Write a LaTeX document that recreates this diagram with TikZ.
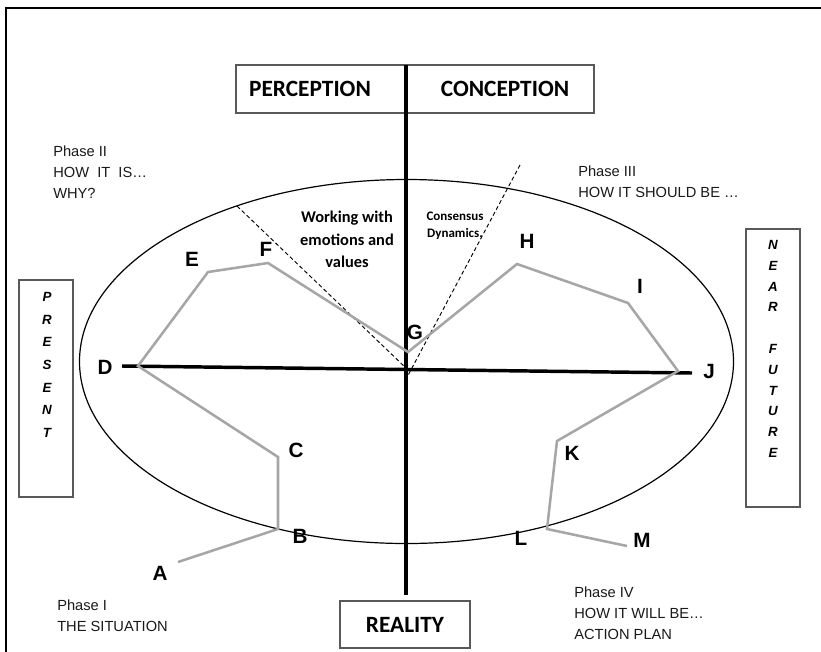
\documentclass[tikz,border=0pt]{standalone}
\usepackage{fontspec}
\setmainfont{Liberation Sans}
\newfontfamily\calibri{Carlito}
\begin{document}
\begin{tikzpicture}[x=0.75pt,y=-0.75pt,
  frame/.style={line width=2.2pt,black},
  axis/.style={line width=2.6pt,black},
  grayline/.style={line width=1.9pt,color=black!35,line join=miter},
  dashline/.style={line width=0.7pt,dash pattern=on 3pt off 2pt},
  oval/.style={line width=0.9pt},
  box/.style={draw=black!65,line width=0.8pt,inner sep=0},
  lbl/.style={font=\fontsize{15.5}{18}\selectfont\bfseries,inner sep=0},
  phase/.style={font=\fontsize{11}{15.5}\selectfont,align=left,anchor=north west,inner sep=0,text=black!90},
  hdr/.style={font=\calibri\bfseries\fontsize{17.5}{20}\selectfont,inner sep=0},
  vtext/.style={font=\bfseries\itshape\fontsize{10}{12}\selectfont,align=center,inner sep=0},
  note/.style={font=\calibri\bfseries,align=center,anchor=north,inner sep=0}
]
\useasboundingbox (0,0) rectangle (821,651);
% outer frame
\draw[frame] (6,660) -- (6,8) -- (830,8);

% boxes
\node[box,minimum width=268.5pt,minimum height=36pt] (pcbox) at (415,89) {};
\node[hdr] (perc) at (310,89) {PERCEPTION};
\node[hdr] (conc) at (505,89) {CONCEPTION};
\node[box,hdr,minimum width=97.5pt,minimum height=35.25pt] (real) at (405,624.5) {REALITY};
\node[box,minimum width=40.5pt,minimum height=162.75pt] (presbox) at (46,388.5) {};
\node[vtext,font=\bfseries\itshape\fontsize{10}{17}\selectfont] (prestxt) at (47,365) {P\\R\\E\\S\\E\\N\\T};
\node[box,minimum width=40.5pt,minimum height=208.5pt] (nearbox) at (773,368) {};
\node[vtext,font=\bfseries\itshape\fontsize{10}{15.6}\selectfont] (neartxt) at (773,349) {N\\E\\A\\R\\\mbox{}\\F\\U\\T\\U\\R\\E};

% ellipse
\draw[oval] (406.5,361.5) ellipse [x radius=327, y radius=182];

% axes
\coordinate (vtop) at (406,65);
\coordinate (vbot) at (406,595);
\coordinate (hL) at (122,366);
\coordinate (hR) at (692,373);
\draw[axis] (vtop) -- (vbot);
\draw[axis] (hL) -- (hR);

% dashed lines
\coordinate (dl1) at (237,206);
\coordinate (dl2) at (406,368);
\coordinate (dr1) at (520,165);
\coordinate (dr2) at (405,381);
\draw[dashline] (dl1) -- (dl2);
\draw[dashline] (dr1) -- (dr2);

% gray path
\coordinate (pA) at (178,562);
\coordinate (pB) at (278,529);
\coordinate (pC) at (278,457);
\coordinate (pD) at (138,366);
\coordinate (pE) at (208,272);
\coordinate (pF) at (268,263);
\coordinate (pG) at (408,352);
\coordinate (pH) at (517,264);
\coordinate (pI) at (628,303);
\coordinate (pJ) at (678,371);
\coordinate (pK) at (557,441);
\coordinate (pL) at (547,529);
\coordinate (pM) at (627,546);
\draw[grayline] (pA) -- (pB) -- (pC) -- (pD) -- (pE) -- (pF) -- (pG) -- (pH) -- (pI) -- (pJ) -- (pK) -- (pL) -- (pM);

% letter labels
\node[lbl] (A) at (160,573) {A};
\node[lbl] (B) at (300,536) {B};
\node[lbl] (C) at (296,450) {C};
\node[lbl] (D) at (105,367) {D};
\node[lbl] (E) at (192,259) {E};
\node[lbl] (F) at (266,249) {F};
\node[lbl] (G) at (415,332) {G};
\node[lbl] (H) at (527,241) {H};
\node[lbl] (I) at (640,286) {I};
\node[lbl] (J) at (709,371) {J};
\node[lbl] (K) at (572,453) {K};
\node[lbl] (L) at (521,538) {L};
\node[lbl] (M) at (642,540) {M};

% notes
\node[note,font=\calibri\bfseries\fontsize{12.3}{16.9}\selectfont] (emo) at (347,211) {Working with\\emotions and\\values};
\node[note,font=\calibri\bfseries\fontsize{9.75}{12.75}\selectfont] (cons) at (455,211.5) {Consensus\\Dynamics.};

% phases
\node[phase] (ph2) at (53,146) {Phase II\\HOW\ \ IT\ \ IS…\\WHY?};
\node[phase] (ph3) at (578,166) {Phase III\\HOW IT SHOULD BE …};
\node[phase] (ph1) at (57,600) {Phase I\\THE SITUATION};
\node[phase] (ph4) at (574,587) {Phase IV\\HOW IT WILL BE…\\ACTION PLAN};
\end{tikzpicture}
\end{document}
